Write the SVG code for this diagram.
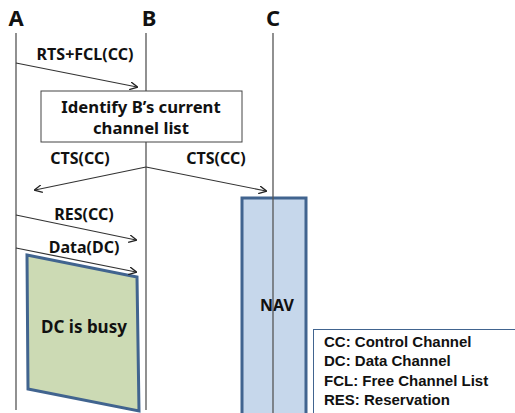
<svg xmlns="http://www.w3.org/2000/svg" width="515" height="413" viewBox="0 0 515 413">
<defs>
<style>
text{font-family:"Noto Sans","Open Sans","Liberation Sans",sans-serif;font-weight:bold;fill:#111}
.life{stroke:#555;stroke-width:1.3;fill:none}
.msg{stroke:#333;stroke-width:1.2;fill:none;marker-end:url(#ah)}
.lbl{font-size:16px;text-anchor:middle}
.hd{font-size:22px;text-anchor:middle}
.lg{font-size:15px;font-family:"Liberation Sans",Arial,sans-serif}
</style>
<marker id="ah" viewBox="0 0 10 10" refX="9" refY="5" markerWidth="8" markerHeight="8" markerUnits="userSpaceOnUse" orient="auto">
<path d="M0,0 L10,5 L0,10" fill="none" stroke="#222" stroke-width="1.6"/>
</marker>
</defs>
<rect width="515" height="413" fill="#fff"/>
<g id="A"><text class="hd" x="16" y="26">A</text><line class="life" x1="16" y1="33" x2="16" y2="410"/></g>
<g id="busy"><polygon points="27,255 137,277 139,411 28,389" fill="#CCDAB4" stroke="#41648F" stroke-width="3"/><text class="lbl" style="font-size:17px" x="84" y="333">DC is busy</text></g>
<g id="B"><text class="hd" x="149" y="26">B</text><line class="life" x1="146" y1="33" x2="146" y2="91"/><line class="life" x1="146" y1="142" x2="146" y2="410"/></g>
<g id="NAV"><rect x="242" y="198" width="64" height="220" fill="#C6D7EB" stroke="#41648F" stroke-width="3"/><text class="lbl" x="277" y="311">NAV</text></g>
<g id="C"><text class="hd" x="273" y="26">C</text><line class="life" x1="273" y1="33" x2="273" y2="413"/></g>
<g id="identify"><rect x="41" y="91" width="201" height="51" fill="#fff" stroke="#444" stroke-width="1"/><text class="lbl" style="font-size:16.7px" x="141" y="113">Identify B’s current</text><text class="lbl" style="font-size:16.7px" x="141" y="134">channel list</text></g>
<g id="connectors">
<line class="msg" x1="16" y1="63" x2="137" y2="87"/>
<line class="msg" x1="146" y1="167" x2="35" y2="190"/>
<line class="msg" x1="146" y1="167" x2="266" y2="191"/>
<line class="msg" x1="16" y1="215" x2="136" y2="240"/>
<line class="msg" x1="16" y1="248" x2="136" y2="272"/>
</g>
<g id="labels">
<text class="lbl" x="85" y="60">RTS+FCL(CC)</text>
<text class="lbl" x="80" y="164">CTS(CC)</text>
<text class="lbl" x="216" y="164">CTS(CC)</text>
<text class="lbl" x="84" y="220">RES(CC)</text>
<text class="lbl" x="84" y="253">Data(DC)</text>
</g>
<g id="legend"><rect x="313.5" y="329.5" width="205" height="90" fill="#fff" stroke="#41648F" stroke-width="1"/>
<text class="lg" x="324" y="347">CC: Control Channel</text>
<text class="lg" x="324" y="366">DC: Data Channel</text>
<text class="lg" x="324" y="386">FCL: Free Channel List</text>
<text class="lg" x="324" y="405">RES: Reservation</text>
</g>
</svg>
